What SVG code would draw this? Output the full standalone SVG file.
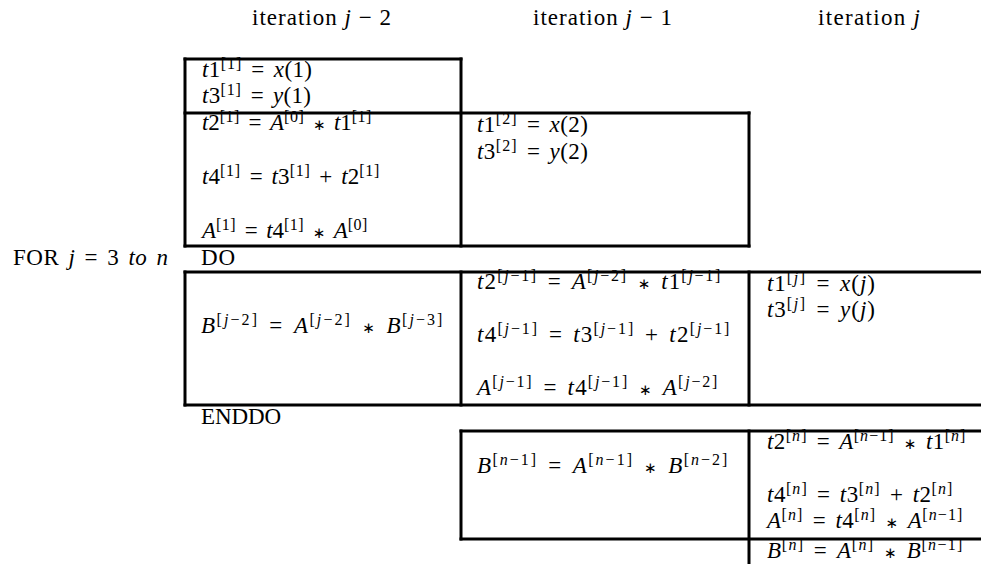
<svg xmlns="http://www.w3.org/2000/svg" width="981" height="564" viewBox="0 0 981 564">
<style>
.t{font-family:"Liberation Serif","Times New Roman",serif;font-size:23px;fill:#000}
.e{word-spacing:3px}
.i{font-style:italic}
.s{font-size:16px;letter-spacing:0.6px;word-spacing:0}
.o{font-family:"DejaVu Sans","Liberation Sans",sans-serif;font-size:15px}
.g line{stroke:#000;stroke-width:3;stroke-linecap:square}
</style>
<rect width="981" height="564" fill="#fff"/>
<g id="grid" class="g">
<line x1="185" y1="59" x2="461" y2="59"/>
<line x1="185" y1="113" x2="749" y2="113"/>
<line x1="185" y1="246" x2="749" y2="246"/>
<line x1="185" y1="272" x2="981" y2="272"/>
<line x1="185" y1="405" x2="981" y2="405"/>
<line x1="461" y1="431" x2="981" y2="431"/>
<line x1="461" y1="539" x2="981" y2="539"/>
<line x1="185" y1="59" x2="185" y2="246"/>
<line x1="185" y1="272" x2="185" y2="405"/>
<line x1="461" y1="59" x2="461" y2="246"/>
<line x1="461" y1="272" x2="461" y2="405"/>
<line x1="461" y1="431" x2="461" y2="539"/>
<line x1="749" y1="113" x2="749" y2="246"/>
<line x1="749" y1="272" x2="749" y2="405"/>
<line x1="749" y1="431" x2="749" y2="564"/>
</g>
<g id="headers">
<text class="t" x="252" y="25" textLength="139" lengthAdjust="spacing">iteration <tspan class="i">j</tspan> − 2</text>
<text class="t" x="533" y="25" textLength="139" lengthAdjust="spacing">iteration <tspan class="i">j</tspan> − 1</text>
<text class="t" x="818" y="25" textLength="102" lengthAdjust="spacing">iteration <tspan class="i">j</tspan></text>
</g>
<g id="loop">
<text class="t e" x="13" y="265" textLength="155" lengthAdjust="spacing">FOR <tspan class="i">j</tspan> = 3 <tspan class="i">to n</tspan></text>
<text class="t" x="201" y="265" textLength="34" lengthAdjust="spacing">DO</text>
<text class="t" x="201" y="424" textLength="80" lengthAdjust="spacing">ENDDO</text>
</g>
<g id="cell-load1">
<text class="t e" x="202" y="77" textLength="110" lengthAdjust="spacing"><tspan class="i">t</tspan>1<tspan class="s" dy="-8">[1]</tspan><tspan dy="8"> = </tspan><tspan class="i">x</tspan>(1)</text>
<text class="t e" x="202" y="103" textLength="109" lengthAdjust="spacing"><tspan class="i">t</tspan>3<tspan class="s" dy="-8">[1]</tspan><tspan dy="8"> = </tspan><tspan class="i">y</tspan>(1)</text>
</g>
<g id="cell-comp1">
<text class="t e" x="202" y="130" textLength="170" lengthAdjust="spacing"><tspan class="i">t</tspan>2<tspan class="s" dy="-8">[1]</tspan><tspan dy="8"> = </tspan><tspan class="i">A</tspan><tspan class="s" dy="-8">[0]</tspan><tspan dy="8"> </tspan><tspan class="o">∗</tspan> <tspan class="i">t</tspan>1<tspan class="s" dy="-8">[1]</tspan></text>
<text class="t e" x="202" y="184" textLength="178" lengthAdjust="spacing"><tspan class="i">t</tspan>4<tspan class="s" dy="-8">[1]</tspan><tspan dy="8"> = </tspan><tspan class="i">t</tspan>3<tspan class="s" dy="-8">[1]</tspan><tspan dy="8"> + </tspan><tspan class="i">t</tspan>2<tspan class="s" dy="-8">[1]</tspan></text>
<text class="t e" x="202" y="238" textLength="166" lengthAdjust="spacing"><tspan class="i">A</tspan><tspan class="s" dy="-8">[1]</tspan><tspan dy="8"> = </tspan><tspan class="i">t</tspan>4<tspan class="s" dy="-8">[1]</tspan><tspan dy="8"> </tspan><tspan class="o">∗</tspan> <tspan class="i">A</tspan><tspan class="s" dy="-8">[0]</tspan></text>
</g>
<g id="cell-load2">
<text class="t e" x="477" y="132" textLength="111" lengthAdjust="spacing"><tspan class="i">t</tspan>1<tspan class="s" dy="-8">[2]</tspan><tspan dy="8"> = </tspan><tspan class="i">x</tspan>(2)</text>
<text class="t e" x="477" y="159" textLength="111" lengthAdjust="spacing"><tspan class="i">t</tspan>3<tspan class="s" dy="-8">[2]</tspan><tspan dy="8"> = </tspan><tspan class="i">y</tspan>(2)</text>
</g>
<g id="cell-b-j2">
<text class="t e" x="201" y="333" textLength="242" lengthAdjust="spacing"><tspan class="i">B</tspan><tspan class="s" dy="-8">[<tspan class="i">j</tspan>−2]</tspan><tspan dy="8"> = </tspan><tspan class="i">A</tspan><tspan class="s" dy="-8">[<tspan class="i">j</tspan>−2]</tspan><tspan dy="8"> </tspan><tspan class="o">∗</tspan> <tspan class="i">B</tspan><tspan class="s" dy="-8">[<tspan class="i">j</tspan>−3]</tspan></text>
</g>
<g id="cell-comp-j1">
<text class="t e" x="477" y="289" textLength="244" lengthAdjust="spacing"><tspan class="i">t</tspan>2<tspan class="s" dy="-8">[<tspan class="i">j</tspan>−1]</tspan><tspan dy="8"> = </tspan><tspan class="i">A</tspan><tspan class="s" dy="-8">[<tspan class="i">j</tspan>−2]</tspan><tspan dy="8"> </tspan><tspan class="o">∗</tspan> <tspan class="i">t</tspan>1<tspan class="s" dy="-8">[<tspan class="i">j</tspan>−1]</tspan></text>
<text class="t e" x="477" y="342" textLength="253" lengthAdjust="spacing"><tspan class="i">t</tspan>4<tspan class="s" dy="-8">[<tspan class="i">j</tspan>−1]</tspan><tspan dy="8"> = </tspan><tspan class="i">t</tspan>3<tspan class="s" dy="-8">[<tspan class="i">j</tspan>−1]</tspan><tspan dy="8"> + </tspan><tspan class="i">t</tspan>2<tspan class="s" dy="-8">[<tspan class="i">j</tspan>−1]</tspan></text>
<text class="t e" x="477" y="395" textLength="241" lengthAdjust="spacing"><tspan class="i">A</tspan><tspan class="s" dy="-8">[<tspan class="i">j</tspan>−1]</tspan><tspan dy="8"> = </tspan><tspan class="i">t</tspan>4<tspan class="s" dy="-8">[<tspan class="i">j</tspan>−1]</tspan><tspan dy="8"> </tspan><tspan class="o">∗</tspan> <tspan class="i">A</tspan><tspan class="s" dy="-8">[<tspan class="i">j</tspan>−2]</tspan></text>
</g>
<g id="cell-load-j">
<text class="t e" x="767" y="291" textLength="108" lengthAdjust="spacing"><tspan class="i">t</tspan>1<tspan class="s" dy="-8">[<tspan class="i">j</tspan>]</tspan><tspan dy="8"> = </tspan><tspan class="i">x</tspan>(<tspan class="i">j</tspan>)</text>
<text class="t e" x="767" y="317" textLength="108" lengthAdjust="spacing"><tspan class="i">t</tspan>3<tspan class="s" dy="-8">[<tspan class="i">j</tspan>]</tspan><tspan dy="8"> = </tspan><tspan class="i">y</tspan>(<tspan class="i">j</tspan>)</text>
</g>
<g id="cell-b-n1">
<text class="t e" x="477" y="473" textLength="251" lengthAdjust="spacing"><tspan class="i">B</tspan><tspan class="s" dy="-8">[<tspan class="i">n</tspan>−1]</tspan><tspan dy="8"> = </tspan><tspan class="i">A</tspan><tspan class="s" dy="-8">[<tspan class="i">n</tspan>−1]</tspan><tspan dy="8"> </tspan><tspan class="o">∗</tspan> <tspan class="i">B</tspan><tspan class="s" dy="-8">[<tspan class="i">n</tspan>−2]</tspan></text>
</g>
<g id="cell-comp-n">
<text class="t e" x="767" y="449" textLength="199" lengthAdjust="spacing"><tspan class="i">t</tspan>2<tspan class="s" dy="-8">[<tspan class="i">n</tspan>]</tspan><tspan dy="8"> = </tspan><tspan class="i">A</tspan><tspan class="s" dy="-8">[<tspan class="i">n</tspan>−1]</tspan><tspan dy="8"> </tspan><tspan class="o">∗</tspan> <tspan class="i">t</tspan>1<tspan class="s" dy="-8">[<tspan class="i">n</tspan>]</tspan></text>
<text class="t e" x="767" y="502" textLength="186" lengthAdjust="spacing"><tspan class="i">t</tspan>4<tspan class="s" dy="-8">[<tspan class="i">n</tspan>]</tspan><tspan dy="8"> = </tspan><tspan class="i">t</tspan>3<tspan class="s" dy="-8">[<tspan class="i">n</tspan>]</tspan><tspan dy="8"> + </tspan><tspan class="i">t</tspan>2<tspan class="s" dy="-8">[<tspan class="i">n</tspan>]</tspan></text>
<text class="t e" x="767" y="528" textLength="196" lengthAdjust="spacing"><tspan class="i">A</tspan><tspan class="s" dy="-8">[<tspan class="i">n</tspan>]</tspan><tspan dy="8"> = </tspan><tspan class="i">t</tspan>4<tspan class="s" dy="-8">[<tspan class="i">n</tspan>]</tspan><tspan dy="8"> </tspan><tspan class="o">∗</tspan> <tspan class="i">A</tspan><tspan class="s" dy="-8">[<tspan class="i">n</tspan>−1]</tspan></text>
<text class="t e" x="767" y="558" textLength="196" lengthAdjust="spacing"><tspan class="i">B</tspan><tspan class="s" dy="-8">[<tspan class="i">n</tspan>]</tspan><tspan dy="8"> = </tspan><tspan class="i">A</tspan><tspan class="s" dy="-8">[<tspan class="i">n</tspan>]</tspan><tspan dy="8"> </tspan><tspan class="o">∗</tspan> <tspan class="i">B</tspan><tspan class="s" dy="-8">[<tspan class="i">n</tspan>−1]</tspan></text>
</g>
</svg>
